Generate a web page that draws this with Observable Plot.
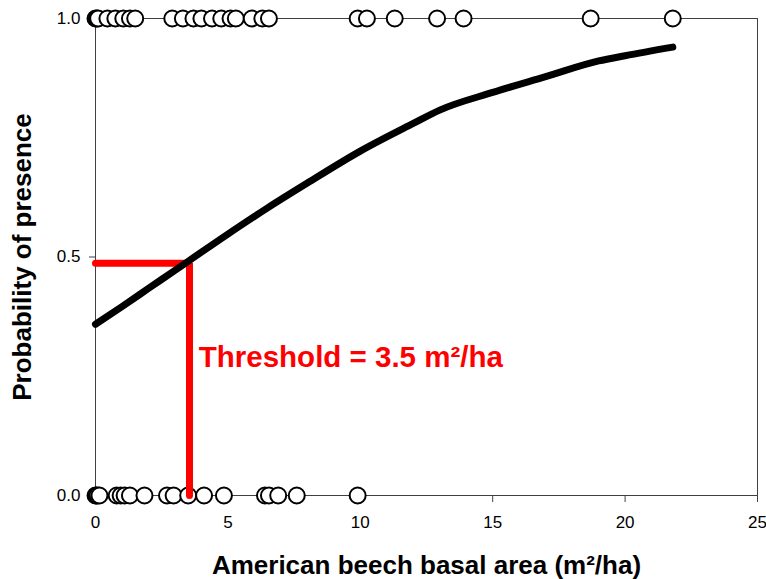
<!DOCTYPE html>
<html>
<head>
<meta charset="utf-8">
<script src="https://cdn.jsdelivr.net/npm/d3@7"></script>
<script src="https://cdn.jsdelivr.net/npm/@observablehq/plot@0.6"></script>
<style>
  html, body { margin: 0; padding: 0; background: #fff; }
  #chart svg { display: block; }
</style>
</head>
<body>
<div id="chart"></div>
<script>
// Observed presences (probability = 1), basal area in m²/ha
const presentX = [0, 0.05, 0.1, 0.45, 0.75, 1.05, 1.3, 1.5, 2.9, 3.3, 3.7, 4.0, 4.4, 4.75, 5.1, 5.3, 5.9, 6.3, 6.55, 9.9, 10.25, 11.3, 12.9, 13.9, 18.7, 21.8];
// Observed absences (probability = 0)
const absentX = [0, 0.03, 0.08, 0.15, 0.8, 0.95, 1.1, 1.3, 1.85, 2.7, 2.95, 3.5, 4.1, 4.85, 6.4, 6.55, 6.9, 7.6, 9.9];
// Fitted logistic curve
const curveX = [0, 1, 2, 3, 3.5, 5, 6.5, 8, 10, 12, 13, 15, 17, 19, 20, 21.8];
const curveY = [0.359, 0.396, 0.434, 0.472, 0.491, 0.548, 0.603, 0.655, 0.722, 0.78, 0.808, 0.845, 0.878, 0.911, 0.922, 0.94];
// Threshold guide
const thresholdX = 3.55;
const thresholdY = 0.487;
const thresholdLabel = "Threshold = 3.5 m²/ha";
const xTicks = [0, 5, 10, 15, 20, 25];
const yTicks = [0, 0.5, 1];
const xTitle = "American beech basal area (m²/ha)";
const yTitle = "Probability of presence";

const points = [
  ...presentX.map(x => ({x, y: 1})),
  ...absentX.map(x => ({x, y: 0}))
];
const curve = curveX.map((x, i) => ({x, y: curveY[i]}));
const guide = [
  {x: 0, y: thresholdY},
  {x: thresholdX, y: thresholdY},
  {x: thresholdX, y: 0}
];

const chart = Plot.plot({
  width: 766,
  height: 579,
  marginLeft: 95,
  marginRight: 9,
  marginTop: 18,
  marginBottom: 84,
  style: {fontFamily: "'Liberation Sans', Arial, sans-serif", background: "#fff", color: "#000"},
  x: {domain: [0, 25]},
  y: {domain: [0, 1]},
  marks: [
    Plot.frame({stroke: "#404040", strokeWidth: 1}),
    Plot.axisX({ticks: xTicks, tickSize: 7, tickPadding: 13, fontSize: 17, label: null, stroke: "#404040", strokeOpacity: 1}),
    Plot.axisY({ticks: yTicks, tickSize: 6, tickPadding: 9, fontSize: 17, tickFormat: d3.format(".1f"), label: null, stroke: "#404040", strokeOpacity: 1}),
    Plot.dot(points, {x: "x", y: "y", r: 8, fill: "#fff", stroke: "#000", strokeWidth: 2}),
    Plot.line(guide, {x: "x", y: "y", stroke: "#ff0000", strokeWidth: 7, strokeLinecap: "round", strokeLinejoin: "miter"}),
    Plot.line(curve, {x: "x", y: "y", stroke: "#000", strokeWidth: 7, strokeLinecap: "round", curve: "monotone-x"}),
    Plot.text([thresholdLabel], {x: 3.9, y: 0.289, text: d => d, textAnchor: "start", fill: "#ff0000", fontSize: 29.5, fontWeight: "bold"}),
    Plot.text([xTitle], {frameAnchor: "bottom", dy: 78, text: d => d, fontSize: 26, fontWeight: "bold", fill: "#000"}),
    Plot.text([yTitle], {frameAnchor: "left", dx: -73, rotate: -90, textAnchor: "middle", text: d => d, fontSize: 26, fontWeight: "bold", fill: "#000"})
  ]
});
document.getElementById("chart").appendChild(chart);
</script>
</body>
</html>
